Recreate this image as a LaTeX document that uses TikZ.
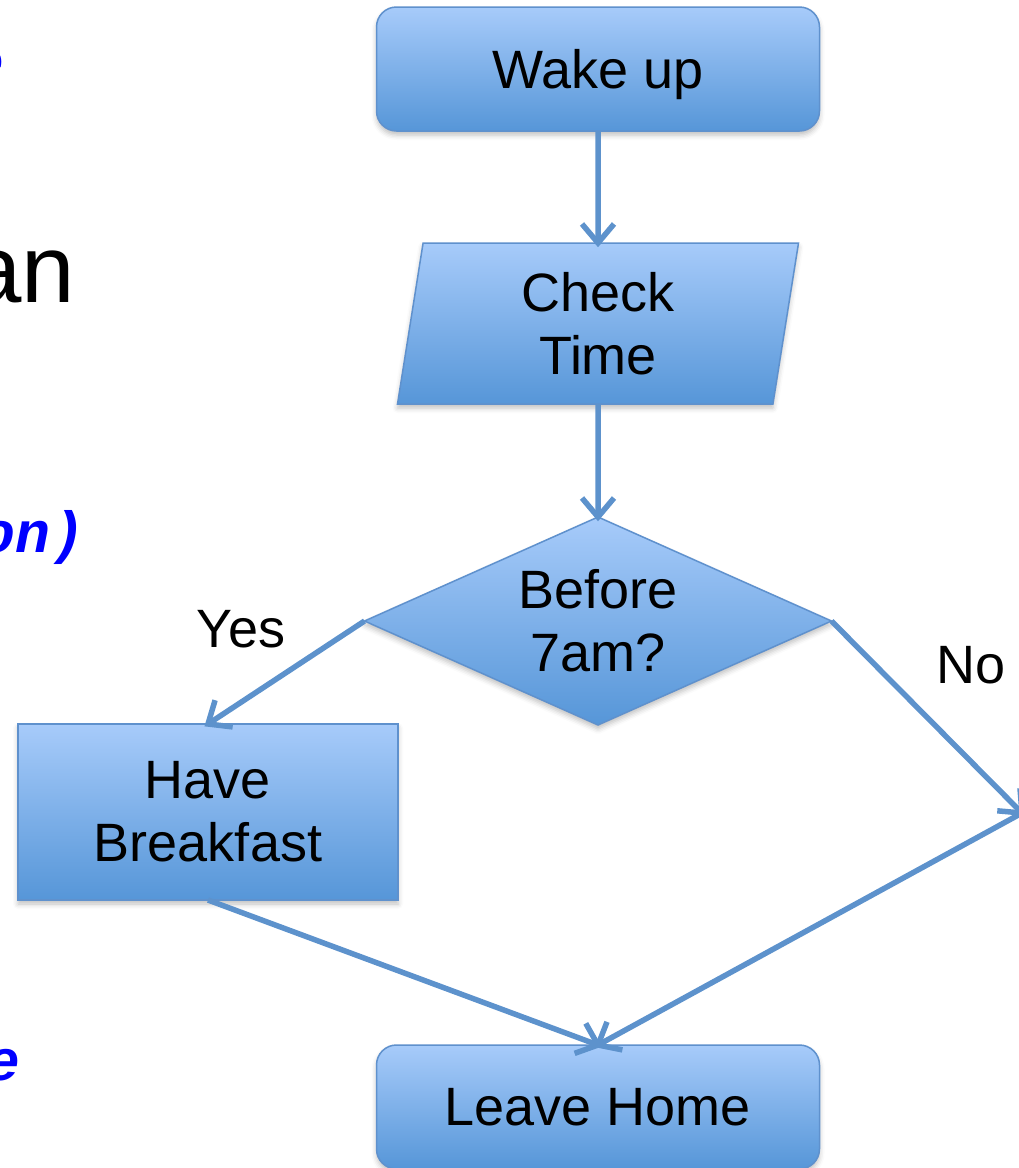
\documentclass[tikz,border=0pt]{standalone}
\usepackage{fontspec}
\setmainfont{Liberation Sans}
\newfontfamily\codefont{Liberation Mono}
\usetikzlibrary{shapes.geometric, decorations.markings, shadows.blur}

\definecolor{shadetop}{RGB}{167,203,250}
\definecolor{shadebot}{RGB}{86,150,216}
\definecolor{edgeblue}{RGB}{95,145,205}
\definecolor{linkblue}{RGB}{93,146,204}
\definecolor{codeblue}{RGB}{0,0,255}

\newcommand\flowfont{\fontsize{54}{63}\selectfont}
\newcommand\codetext{\codefont\bfseries\itshape\fontsize{58}{70}\selectfont}

\begin{document}
\begin{tikzpicture}[x=1pt, y=-1pt,
  every node/.style={inner sep=0pt, outer sep=0pt},
  box/.style={draw=edgeblue, line width=1.5pt,
    top color=shadetop, bottom color=shadebot,
    blur shadow={shadow xshift=0pt, shadow yshift=-4pt,
                 shadow blur radius=5pt, shadow opacity=25},
    font=\flowfont, align=center},
  terminal/.style={box, rounded corners=20pt, minimum width=443pt,
    minimum height=124pt, text depth=0pt},
  label/.style={font=\flowfont},
  code/.style={font=\codetext, text=codeblue, anchor=base east},
  link/.style={draw=linkblue, line width=5.5pt, postaction={decorate},
    decoration={markings, mark=at position 1 with {
      \draw[linkblue, line width=5.5pt, line join=miter]
        (-19pt,-16pt) -- (0pt,0pt) -- (-19pt,16pt);}}}]

\useasboundingbox (0,0) rectangle (1019,1168);

% fragments of the surrounding slide text
\node[font=\fontsize{96}{110}\selectfont, anchor=base east] (heading) at (75,302) {an};
\node[code] (codetop) at (4,81) {e};
\node[code] (codemid) at (85,552) {on)};
\node[code] (codebot) at (20,1080) {e};

% flowchart shapes
\node[terminal] (wake) at (598,69) {Wake up};
\node[box, trapezium, trapezium left angle=76, trapezium right angle=104,
      trapezium stretches body, minimum width=401pt, minimum height=161pt]
      (check) at (598,323.5) {Check\\Time};
\node[box, diamond, aspect=2.245, minimum width=467pt, minimum height=208pt]
      (dec) at (598,621) {Before\\7am?};
\node[box, minimum width=380pt, minimum height=176pt] (eat) at (208,812) {Have\\Breakfast};
\node[terminal] (leave) at (598,1107) {Leave Home};

% branch labels
\node[label] (yes) at (241,629.5) {Yes};
\node[label] (no) at (971.5,665) {No};

% off-page branch joint
\coordinate (skip) at (1022,813);

% connectors
\draw[link] (wake.south) -- (check.north);
\draw[link] (check.south) -- (dec.north);
\draw[link] (dec.west) -- (eat.north);
\draw[link] (dec.east) -- (skip);
\draw[link] (eat.south) -- (leave.north);
\draw[link] (skip) -- (leave.north);
\end{tikzpicture}
\end{document}
